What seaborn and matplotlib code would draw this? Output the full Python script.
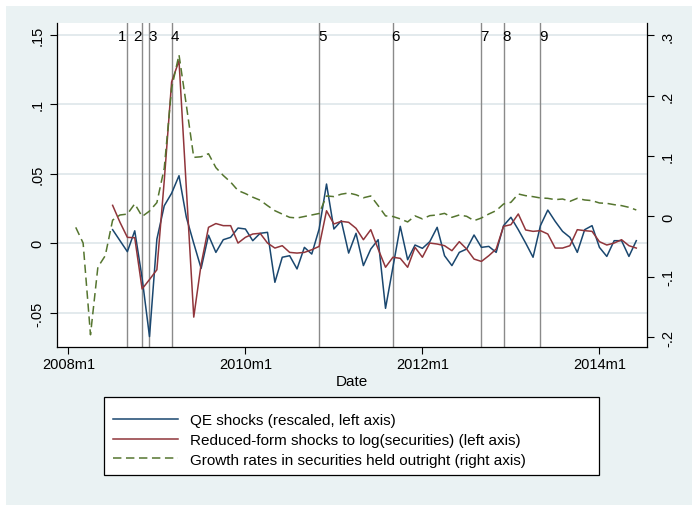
import matplotlib
matplotlib.use("Agg")
import matplotlib.pyplot as plt
import matplotlib.transforms as mtransforms
from matplotlib.lines import Line2D
from matplotlib.patches import Rectangle
import pandas as pd
import seaborn as sns

# ---------------------------------------------------------------- data
# Monthly growth rate of securities held outright, 2008m2 - 2014m6 (right axis)
growth_start = "2008m2"
growth = [
    -0.018, -0.044, -0.196, -0.084, -0.065, -0.006, 0.0025, 0.004, 0.021, 0.000, 0.009,
    0.023, 0.080, 0.213, 0.268, 0.184, 0.098, 0.099, 0.104, 0.081, 0.068, 0.057, 0.043,
    0.038, 0.032, 0.027, 0.018, 0.0096, 0.004, -0.0014, -0.0025, 0.000, 0.0025, 0.005, 0.034,
    0.033, 0.037, 0.039, 0.036, 0.031, 0.034, 0.018, 0.001, 0.000, -0.004, -0.009, 0.001,
    -0.004, 0.0014, 0.0025, 0.0052, -0.0014, 0.0025, 0.0003, -0.0069, -0.0025, 0.0041, 0.0097, 0.0207,
    0.0235, 0.0373, 0.0345, 0.0329, 0.0307, 0.0301, 0.0279, 0.029, 0.0251, 0.0301, 0.0274, 0.0263,
    0.0224, 0.0218, 0.0196, 0.018, 0.0152, 0.0108,
]

# Shock series, 2008m7 - 2014m6 (left axis)
shocks_start = "2008m7"
qe_shocks = [
    0.0098, 0.0019, -0.006, 0.009, -0.025, -0.067,
    0.003, 0.027, 0.036, 0.0486, 0.0186, 0.000, -0.018, 0.0058, -0.0065, 0.0026, 0.0043, 0.011,
    0.0103, 0.0019, 0.0072, 0.0079, -0.028, -0.010, -0.0089, -0.0184, -0.0029, -0.0077, 0.0103, 0.0426,
    0.0103, 0.0162, -0.007, 0.0072, -0.016, -0.0041, 0.0026, -0.0467, -0.0172, 0.0122, -0.0118, -0.0012,
    -0.0036, 0.0012, 0.0115, -0.0089, -0.016, -0.0065, -0.0041, 0.006, -0.0029, -0.0022, -0.0065, 0.0127,
    0.0187, 0.0098, 0.0002, -0.010, 0.0127, 0.0239, 0.0158, 0.0086, 0.0043, -0.0065, 0.0098, 0.0127,
    -0.0029, -0.0094, 0.0019, 0.0019, -0.0094, 0.0019,
]
rf_shocks = [
    0.0273, 0.0151, 0.0043, 0.004, -0.0328, -0.026,
    -0.019, 0.045, 0.116, 0.1312, 0.039, -0.053, -0.015, 0.0115, 0.0142, 0.0127, 0.0127, 0.0002,
    0.0043, 0.0067, 0.0072, 0.0002, -0.0034, -0.0017, -0.0065, -0.007, -0.0065, -0.0046, -0.0022, 0.0234,
    0.0139, 0.0158, 0.0151, 0.0108, 0.0026, 0.0098, -0.0041, -0.0172, -0.010, -0.0108, -0.0172, -0.0029,
    -0.010, 0.0002, -0.0005, -0.0017, -0.0053, 0.0012, -0.0041, -0.0113, -0.013, -0.0089, -0.0041, 0.0122,
    0.0134, 0.0211, 0.0096, 0.0086, 0.0091, 0.0067, -0.0034, -0.0034, -0.0017, 0.0098, 0.0091, 0.0086,
    0.0012, -0.0012, 0.0002, 0.0026, -0.0017, -0.0034,
]

# Policy events marked with vertical lines
event_months = ["2008m9", "2008m11", "2008m12", "2009m3", "2010m11",
                 "2011m9", "2012m9", "2012m12", "2013m5"]
event_labels = ["1", "2", "3", "4", "5", "6", "7", "8", "9"]

xtick_labels = ["2008m1", "2010m1", "2012m1", "2014m1"]
left_ticks = [-0.05, 0.0, 0.05, 0.10, 0.15]
left_tick_labels = ["-.05", "0", ".05", ".1", ".15"]
right_ticks = [-0.2, -0.1, 0.0, 0.1, 0.2, 0.3]
right_tick_labels = ["-.2", "-.1", "0", ".1", ".2", ".3"]

series_labels = [
    "QE shocks (rescaled, left axis)",
    "Reduced-form shocks to log(securities) (left axis)",
    "Growth rates in securities held outright (right axis)",
]


def month_index(s):
    """Months since 2008m1 for a Stata-style 'YYYYmM' string."""
    y, m = s.split("m")
    return (int(y) - 2008) * 12 + int(m) - 1


g0 = month_index(growth_start)
s0 = month_index(shocks_start)
df_growth = pd.DataFrame({"t": range(g0, g0 + len(growth)), "growth": growth})
df_shocks = pd.DataFrame({"t": range(s0, s0 + len(qe_shocks)),
                          "qe": qe_shocks, "rf": rf_shocks})

# ---------------------------------------------------------------- style
NAVY = "#1a476f"
MAROON = "#90353b"
FOREST = "#55752f"
BG = "#eaf2f3"
GRID = "#e3eaed"
EVENT = "#8a8a8a"
FONT = "Liberation Sans"
DASH = (0, (5.5, 3))

plt.rcParams["font.family"] = [FONT, "DejaVu Sans"]

W, H = 692, 506
fig = plt.figure(figsize=(W / 100, H / 100), dpi=100, facecolor="white")
fig.patches.append(Rectangle((6 / W, 0), 1 - 6 / W, 1 - 7 / H,
                             transform=fig.transFigure, facecolor=BG,
                             edgecolor="none", zorder=-10))

px_l, px_r, px_t, px_b = 57.3, 647.0, 24.0, 348.3
ax = fig.add_axes([px_l / W, 1 - px_b / H, (px_r - px_l) / W, (px_b - px_t) / H])
ax.set_facecolor("white")
ax2 = ax.twinx()

# gridlines at left-axis ticks
for v in left_ticks:
    ax.axhline(v, color=GRID, lw=1.4, zorder=0)

# event lines and their numbers
for i, (mo, lab) in enumerate(zip(event_months, event_labels)):
    xm = month_index(mo)
    ax.axvline(xm, color=EVENT, lw=1.0, zorder=1)
    dx = -5 if i < 2 else 3
    tr = mtransforms.offset_copy(
        mtransforms.blended_transform_factory(ax.transData, ax.transAxes),
        fig=fig, x=dx * 0.72, y=0, units="points")
    ax.text(xm, 0.961, lab, transform=tr, ha="center", va="center",
            fontsize=11, color="black", zorder=3)

sns.lineplot(data=df_shocks, x="t", y="qe", ax=ax, color=NAVY, lw=1.1,
             zorder=2, legend=False)
sns.lineplot(data=df_shocks, x="t", y="rf", ax=ax, color=MAROON, lw=1.1,
             zorder=2, legend=False)
sns.lineplot(data=df_growth, x="t", y="growth", ax=ax2, color=FOREST, lw=1.1,
             linestyle=DASH, legend=False)

# ---------------------------------------------------------------- axes
ax.set_xlim(-1.5, 78.45)
ax.set_ylim(-0.0747, 0.1583)
ax2.set_ylim(-0.2168, 0.3207)

ax.set_xticks([month_index(s) for s in xtick_labels])
ax.set_xticklabels(xtick_labels)
ax.set_yticks(left_ticks)
ax.set_yticklabels(left_tick_labels)
ax2.set_yticks(right_ticks)
ax2.set_yticklabels(right_tick_labels)

ax.set_xlabel("Date", fontsize=11, labelpad=2)
ax.set_ylabel("")
ax2.set_ylabel("")

for a in (ax, ax2):
    for s in a.spines.values():
        s.set_visible(False)
ax.spines["left"].set_visible(True)
ax.spines["bottom"].set_visible(True)
ax2.spines["right"].set_visible(True)
for s in (ax.spines["left"], ax.spines["bottom"], ax2.spines["right"]):
    s.set_color("black")
    s.set_linewidth(0.9)

ax.tick_params(axis="x", length=5, width=0.8, pad=2, labelsize=10.5, colors="black")
ax.tick_params(axis="y", length=5, width=0.8, pad=4, labelsize=10.5, colors="black")
ax2.tick_params(axis="y", length=5, width=0.8, pad=5, labelsize=10.5, colors="black")
for t in ax.get_yticklabels() + ax2.get_yticklabels():
    t.set_rotation(90)
    t.set_va("center")

# ---------------------------------------------------------------- legend
box_l, box_t, box_r, box_b = 104, 398, 599, 476
fig.patches.append(Rectangle((box_l / W, 1 - box_b / H),
                             (box_r - box_l) / W, (box_b - box_t) / H,
                             transform=fig.transFigure, facecolor="white",
                             edgecolor="black", lw=0.9, zorder=1))
handles = [
    Line2D([], [], color=NAVY, lw=1.1),
    Line2D([], [], color=MAROON, lw=1.1),
    Line2D([], [], color=FOREST, lw=1.1, linestyle=DASH),
]
leg = fig.legend(handles, series_labels, loc="center left",
                 bbox_to_anchor=(113 / W, 1 - 441 / H),
                 ncol=1, fontsize=11, frameon=False,
                 handlelength=4.25, handletextpad=0.78, labelspacing=0.37,
                 borderpad=0, borderaxespad=0)
leg.set_zorder(2)

fig.savefig("out.png", dpi=100, facecolor=fig.get_facecolor())
